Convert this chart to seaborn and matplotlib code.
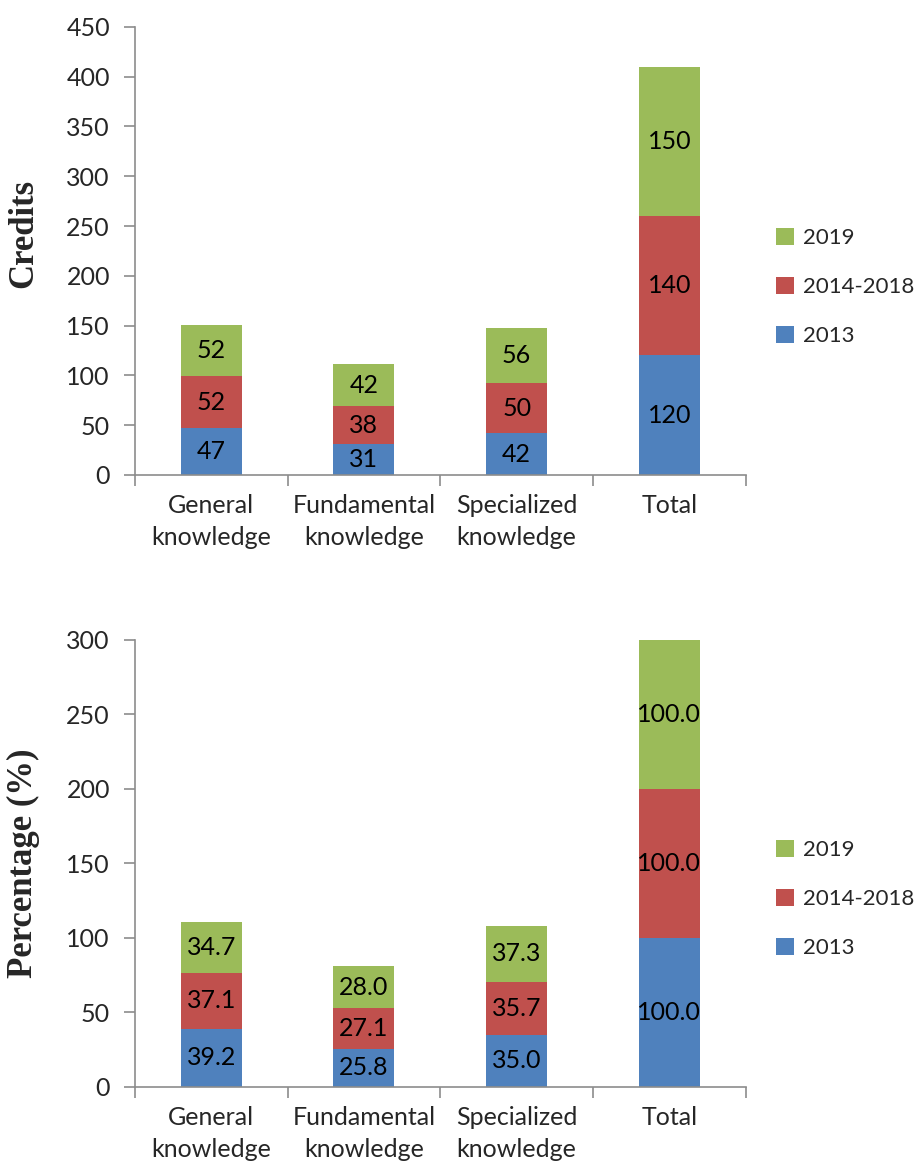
import numpy as np
import pandas as pd
import matplotlib
matplotlib.use("Agg")
import matplotlib.pyplot as plt
import seaborn as sns
from matplotlib.patches import Patch

categories = ["General\nknowledge", "Fundamental\nknowledge", "Specialized\nknowledge", "Total"]
series = ["2013", "2014-2018", "2019"]

credits_2013 = [47, 31, 42, 120]
credits_2014_2018 = [52, 38, 50, 140]
credits_2019 = [52, 42, 56, 150]

pct_2013 = [39.2, 25.8, 35.0, 100.0]
pct_2014_2018 = [37.1, 27.1, 35.7, 100.0]
pct_2019 = [34.7, 28.0, 37.3, 100.0]

colors = {"2013": "#4F81BD", "2014-2018": "#C0504D", "2019": "#9BBB59"}

sns.set_style("white")
plt.rcParams['font.family'] = ['Lato', 'DejaVu Sans']

TICK_FS = 18
LABEL_FS = 18
AXIS_COLOR = "#8c8c8c"


def stacked(ax, values, fmt, ymax, ystep, ylabel, label_y):
    df = pd.DataFrame({"category": categories,
                       "2013": values[0], "2014-2018": values[1], "2019": values[2]})
    # cumulative heights, drawn tallest first so lower segments overlay
    cum = np.cumsum(np.array(values), axis=0)
    for k in [2, 1, 0]:
        sns.barplot(x=df["category"], y=cum[k], color=colors[series[k]],
                    width=0.4, ax=ax, saturation=1, edgecolor="none", linewidth=0)
    # segment labels
    for k in range(3):
        for i, v in enumerate(values[k]):
            base = cum[k][i] - v
            ax.text(i, base + v / 2, fmt.format(v), ha="center", va="center",
                    fontsize=LABEL_FS, color="black")
    ax.set_xlim(-0.5, 3.5)
    ax.set_ylim(0, ymax)
    ax.set_yticks(np.arange(0, ymax + 1, ystep))
    ax.set_xticks(range(4))
    ax.set_xticklabels(categories, fontsize=TICK_FS, linespacing=1.45)
    ax.set_xticks(np.arange(-0.5, 4.0, 1.0), minor=True)
    ax.tick_params(axis="x", which="major", bottom=True, length=0, pad=14)
    ax.tick_params(axis="x", which="minor", bottom=True, length=8, color=AXIS_COLOR,
                   width=1.2, direction="out")
    ax.tick_params(axis="y", left=True, length=8, color=AXIS_COLOR, width=1.2,
                   direction="out", labelsize=TICK_FS, pad=10)
    ax.set_xlabel("")
    ax.set_ylabel(ylabel, fontsize=25, fontweight="bold",
                  family=["Liberation Serif", "DejaVu Serif"])
    ax.yaxis.set_label_coords(-0.155, label_y)
    for s in ["top", "right"]:
        ax.spines[s].set_visible(False)
    for s in ["left", "bottom"]:
        ax.spines[s].set_color(AXIS_COLOR)
        ax.spines[s].set_linewidth(1.2)
    handles = [Patch(facecolor=colors[s], edgecolor="none") for s in series[::-1]]
    ax.legend(handles, series[::-1], loc="center left", bbox_to_anchor=(1.025, 0.42),
              frameon=False, fontsize=16, handlelength=0.8, handleheight=0.8,
              labelspacing=1.3, handletextpad=0.4, borderpad=0.2)


fig = plt.figure(figsize=(9.24, 11.67), dpi=100)
ax1 = fig.add_axes([0.146, 0.593, 0.661, 0.384])
ax2 = fig.add_axes([0.146, 0.0686, 0.661, 0.383])

stacked(ax1, [credits_2013, credits_2014_2018, credits_2019], "{:.0f}", 450, 50, "Credits", 0.54)
stacked(ax2, [pct_2013, pct_2014_2018, pct_2019], "{:.1f}", 300, 50, "Percentage (%)", 0.50)

fig.savefig("out.png", dpi=100)
